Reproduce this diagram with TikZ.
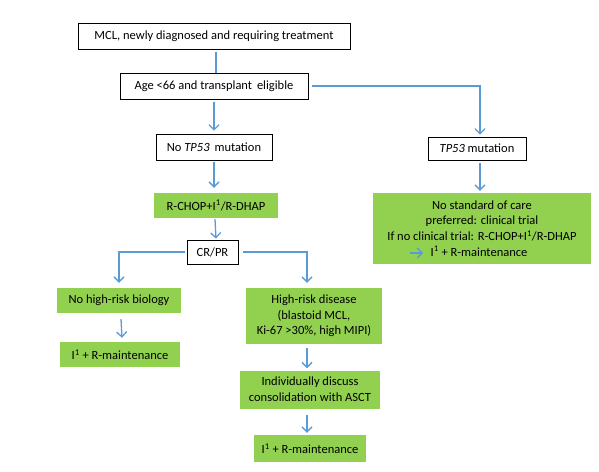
\documentclass[tikz,border=0pt]{standalone}
\usepackage{fontspec}
\setmainfont{Carlito}
\usetikzlibrary{arrows.meta}
\definecolor{mygreen}{HTML}{92D050}
\definecolor{myblue}{HTML}{5B9BD5}
\begin{document}
\begin{tikzpicture}[x=1pt,y=-1pt,
  every node/.style={font=\fontsize{12.5}{15.7}\selectfont, inner sep=0pt, align=center},
  box/.style={draw=black, line width=0.8pt, fill=white},
  gbox/.style={fill=mygreen},
  conn/.style={draw=myblue, line width=1.3pt},
  arr/.style={conn, -{Straight Barb[length=5pt,width=10pt,line width=1.3pt]}}]
\useasboundingbox (0,0) rectangle (599,471);
\node[box, minimum width=272pt, minimum height=26pt] (mcl) at (214,36) {MCL, newly diagnosed and requiring treatment};
\node[box, minimum width=188pt, minimum height=26pt] (age) at (214,86) {Age <66 and transplant\, eligible};
\node[box, minimum width=116pt, minimum height=26pt] (notp) at (214,147) {No \textit{TP53}\, mutation};
\node[box, minimum width=98pt, minimum height=23pt] (tp) at (477,148.5) {\textit{TP53} mutation};
\node[gbox, minimum width=218pt, minimum height=71pt] (nsc) at (482,228.5) {No standard of care\\preferred: clinical trial\\If no clinical trial: R-CHOP+I\textsuperscript{1}/R-DHAP\\\hspace*{-6pt}I\textsuperscript{1} + R-maintenance};
\node[gbox, minimum width=124pt, minimum height=25pt] (rchop) at (216,205.5) {R-CHOP+I\textsuperscript{1}/R-DHAP};
\node[box, minimum width=51pt, minimum height=24pt] (crpr) at (212.5,252) {CR/PR};
\node[gbox, minimum width=124pt, minimum height=25pt] (nohr) at (119,300.5) {No high-risk biology};
\node[gbox, minimum width=120pt, minimum height=25pt] (nohrm) at (120,354.5) {I\textsuperscript{1} + R-maintenance};
\node[gbox, minimum width=136pt, minimum height=56pt] (hr) at (314,316) {High-risk disease\\(blastoid MCL,\\Ki-67 >30\%, high MIPI)};
\node[gbox, minimum width=140pt, minimum height=38pt] (ind) at (310,389.5) {Individually discuss\\consolidation with ASCT};
\node[gbox, minimum width=112pt, minimum height=27pt] (hrm) at (310,448.5) {I\textsuperscript{1} + R-maintenance};
\draw[conn] (mcl.south) ++(2,3) -- ([xshift=2pt]age.north);
\draw[arr] (age.east) ++(4,0) -| ([xshift=3pt,yshift=2pt]tp.north);
\draw[arr] ([yshift=-3pt]age.south) -- ([yshift=3pt]notp.north);
\draw[arr] ([yshift=-2pt]notp.south) -- ([yshift=5pt]notp.south |- rchop.north);
\draw[arr] ([xshift=3pt,yshift=-3pt]tp.south) -- ([xshift=3pt,yshift=2pt]tp.south |- nsc.north);
\draw[arr] ([xshift=-1pt,yshift=-1pt]rchop.south) -- ([yshift=1pt]rchop.south |- crpr.north);
\draw[arr] ([xshift=-2pt]crpr.west) -| ([yshift=5pt]nohr.north);
\draw[arr] ([xshift=5pt]crpr.east) -| ([xshift=-7pt,yshift=5pt]hr.north);
\draw[arr] ([xshift=2pt,yshift=-6pt]nohr.south) -- ([xshift=2pt,yshift=4pt]nohrm.north);
\draw[arr] ([xshift=-7pt,yshift=-4pt]hr.south) -- ([xshift=-3pt,yshift=2pt]ind.north);
\draw[arr] ([xshift=-3pt,yshift=-6pt]ind.south) -- ([xshift=-3pt,yshift=2pt]hrm.north);
\coordinate (ia) at ([xshift=-72pt,yshift=-24.5pt]nsc.center);
\coordinate (ib) at ([xshift=-59pt,yshift=-24.5pt]nsc.center);
\draw[arr] (ia) -- (ib);
\end{tikzpicture}
\end{document}
